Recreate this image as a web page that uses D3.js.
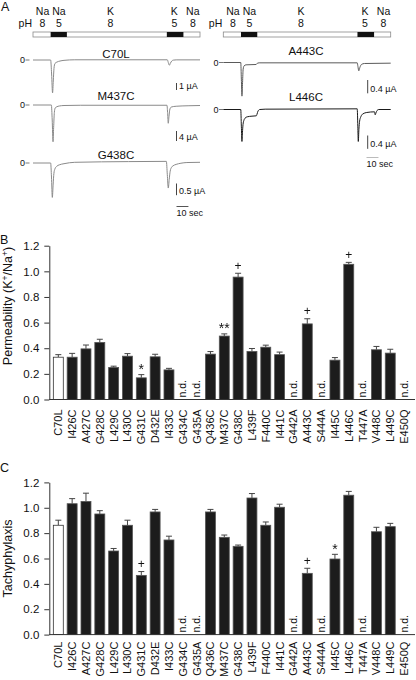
<!DOCTYPE html>
<html><head><meta charset="utf-8">
<script src="https://cdn.jsdelivr.net/npm/d3@7"></script>
<style>
body{margin:0;background:#fff}
svg{display:block}
text{font-family:"Liberation Sans",Arial,Helvetica,sans-serif;fill:#111}
</style>
</head><body>
<svg id="chart" width="416" height="680"></svg>
<script>
// ---------------- DATA ----------------
const mutants = ["C70L","I426C","A427C","G428C","L429C","L430C","G431C","D432E","I433C","G434C","G435A","Q436C","M437C","G438C","L439F","F440C","I441C","G442A","A443C","S444A","I445C","L446C","T447A","V448C","L449C","E450Q"];
const permeability    = [0.33,0.33,0.395,0.445,0.25,0.338,0.169,0.333,0.231,null,null,0.354,0.495,0.955,0.375,0.408,0.35,null,0.59,null,0.307,1.055,null,0.388,0.362,null];
const permeabilityErr = [0.02,0.03,0.03,0.025,0.01,0.02,0.025,0.02,0.012,null,null,0.02,0.017,0.03,0.023,0.016,0.02,null,0.04,null,0.02,0.015,null,0.026,0.03,null];
const permeabilityMarks = {"G431C":"*","M437C":"**","G438C":"+","A443C":"+","L446C":"+"};
const tachyphylaxis    = [0.862,1.032,1.05,0.951,0.659,0.862,0.467,0.967,0.746,null,null,0.967,0.767,0.696,1.077,0.862,1.004,null,0.483,null,0.596,1.099,null,0.811,0.851,null];
const tachyphylaxisErr = [0.04,0.04,0.065,0.026,0.02,0.04,0.03,0.02,0.03,null,null,0.02,0.018,0.01,0.035,0.026,0.024,null,0.04,null,0.037,0.03,null,0.035,0.026,null];
const tachyphylaxisMarks = {"G431C":"+","A443C":"+","I445C":"*"};
const yTicks = [0,0.2,0.4,0.6,0.8,1.0,1.2];
const controlName = "C70L";

// solution protocol (seconds)
const solutions = [
  {ion:"Na", pH:"8", start:0,     end:14.8,  acid:false, labelT:8},
  {ion:"Na", pH:"5", start:14.8,  end:28.4,  acid:true,  labelT:21.8},
  {ion:"K",  pH:"8", start:28.4,  end:112.2, acid:false, labelT:65},
  {ion:"K",  pH:"5", start:112.2, end:126.1, acid:true,  labelT:118.5},
  {ion:"Na", pH:"8", start:126.1, end:140,   acid:false, labelT:134}
];
const recordingLength = 140; // s

// current traces [time s, current µA]
const traceC70L = [[0,0],[14.8,0],[15.6,-2.0],[16.4,-4.7],[17.0,-3.0],[17.6,-1.2],[18.4,-0.5],[20,-0.3],[22.6,-0.15],[26,-0.05],[35,0.03],[112.6,0.03],[113.4,-0.35],[114.3,-0.75],[115.2,-0.45],[116.3,-0.15],[117.6,-0.02],[120,0.02],[140,0.02]];
const traceM437C = [[0,0],[15.4,0],[16.1,-6],[16.8,-14.7],[17.3,-9],[17.9,-3],[18.6,-1.2],[20,-0.7],[22,-0.4],[26,-0.2],[40,-0.1],[112.3,-0.1],[112.9,-3.5],[113.4,-7.3],[114,-4.5],[114.8,-1.6],[116,-0.8],[120,-0.5],[130,-0.3],[140,-0.2]];
const traceG438C = [[0,0],[14.8,0],[15.5,-0.6],[16.2,-1.47],[16.9,-0.9],[17.5,-0.45],[18.4,-0.25],[19.9,-0.14],[22,-0.08],[26,-0.03],[35,0.03],[80,0.06],[111.8,0.07],[112.6,-0.5],[113.4,-1.07],[114.2,-0.7],[115,-0.35],[116.2,-0.18],[117.4,-0.12],[120,-0.06],[124,-0.01],[129,0.02],[140,0.03]];
const traceA443C = [[0,0],[14.6,0],[15.1,-0.5],[15.6,-1.01],[16.1,-0.6],[16.6,-0.2],[17.4,-0.1],[19,-0.07],[27.5,-0.06],[28.5,-0.02],[30,-0.01],[112,-0.01],[112.6,-0.12],[113.3,-0.25],[114.2,-0.15],[115.5,-0.06],[118,-0.03],[140,-0.02]];
const traceL446C = [[0,0],[14.6,0],[15.1,-0.5],[15.6,-0.96],[16.0,-0.7],[16.5,-0.45],[17.2,-0.33],[18.2,-0.26],[20,-0.22],[24,-0.2],[27.6,-0.19],[28.2,-0.14],[29,-0.05],[30.5,0.0],[35,0.01],[112,0.02],[112.5,-0.5],[112.9,-0.96],[113.4,-0.6],[114,-0.35],[115,-0.22],[116.8,-0.13],[120,-0.09],[126.5,-0.07],[127,-0.16],[127.7,-0.1],[128.6,-0.03],[130,0],[140,0]];
const traceNames = ["C70L","M437C","G438C","A443C","L446C"];
const traceScaleBars = [1, 4, 0.5, 0.4, 0.4]; // µA
const timeBar = 10; // s

// ---------------- LAYOUT ----------------
const svg = d3.select("#chart");
const FONT = '"Liberation Sans",Arial,Helvetica,sans-serif';
// grayscale text antialiasing for small glyphs
svg.append("defs").append("filter").attr("id","gray").append("feOffset").attr("dx",0).attr("dy",0);

function panelLetter(t, x, y){
  svg.append("text").attr("x",x).attr("y",y).attr("font-size",12.5).text(t);
}
panelLetter("A",1,10.5);
panelLetter("B",0,243.5);
panelLetter("C",0,471.5);

// ---- Panel A ----
const panelsA = [
  {x0:33, x1:200, zeroX:20, traces:[
    {name:"C70L", data:traceC70L, base:60, k:7, color:"#8a8a8a", title:{x:116,y:58},
      bar:{x:176.5, y:83, val:traceScaleBars[0]}},
    {name:"M437C", data:traceM437C, base:105, k:2.5, color:"#8a8a8a", title:{x:116,y:100},
      bar:{x:176.5, y:131, val:traceScaleBars[1]}},
    {name:"G438C", data:traceG438C, base:163, k:23.4, color:"#8a8a8a", title:{x:116,y:158.5},
      bar:{x:176.5, y:183.5, val:traceScaleBars[2]}, time:{x:176.5, y:206.5, ty:215.5, color:"#555"}}
  ]},
  {x0:223.3, x1:390.7, zeroX:213.5, traces:[
    {name:"A443C", data:traceA443C, base:62.5, k:33.3, color:"#5a5a5a", title:{x:306,y:55},
      bar:{x:367.7, y:80, val:traceScaleBars[3]}},
    {name:"L446C", data:traceL446C, base:109.5, k:33.3, color:"#1a1a1a", title:{x:306,y:100.5},
      bar:{x:367.7, y:135.5, val:traceScaleBars[4]}, time:{x:366.5, y:157.5, ty:166.5, color:"#bbb"}}
  ]}
];

panelsA.forEach(p=>{
  const tx = d3.scaleLinear().domain([0,recordingLength]).range([p.x0,p.x1]);
  const g = svg.append("g");
  // solution labels
  g.append("text").attr("x",p.x0-1).attr("y",27).attr("text-anchor","end").attr("font-size",10.5).text("pH");
  solutions.forEach(s=>{
    g.append("text").attr("x",tx(s.labelT)).attr("y",15).attr("text-anchor","middle").attr("font-size",10.5).text(s.ion);
    g.append("text").attr("x",tx(s.labelT)).attr("y",27).attr("text-anchor","middle").attr("font-size",10.5).text(s.pH);
  });
  // stimulus bar
  g.append("rect").attr("x",tx(0)).attr("y",32).attr("width",tx(recordingLength)-tx(0)).attr("height",5)
    .attr("fill","#fff").attr("stroke","#8a8a8a").attr("stroke-width",0.8);
  g.selectAll("rect.acid").data(solutions.filter(s=>s.acid)).join("rect").attr("class","acid")
    .attr("x",d=>tx(d.start)).attr("y",32).attr("width",d=>tx(d.end)-tx(d.start)).attr("height",5)
    .attr("fill","#111");
  // traces
  p.traces.forEach(tr=>{
    const ty = d3.scaleLinear().domain([0,-1]).range([tr.base,tr.base+tr.k]);
    g.append("text").attr("x",tr.title.x).attr("y",tr.title.y).attr("text-anchor","middle").attr("font-size",11.5).text(tr.name);
    g.append("text").attr("x",p.zeroX).attr("y",tr.base+3).attr("font-size",9).attr("fill","#333").text("0");
    g.append("line").attr("x1",p.zeroX+5.5).attr("x2",p.zeroX+9.5).attr("y1",tr.base).attr("y2",tr.base).attr("stroke","#555").attr("stroke-width",0.8);
    const line = d3.line().x(d=>tx(d[0])).y(d=>ty(d[1])).curve(d3.curveMonotoneX);
    g.append("path").attr("d",line(tr.data)).attr("fill","none").attr("stroke",tr.color).attr("stroke-width",1);
    // amplitude scale bar
    const h = ty(-tr.bar.val)-ty(0);
    g.append("line").attr("x1",tr.bar.x).attr("x2",tr.bar.x).attr("y1",tr.bar.y).attr("y2",tr.bar.y+h).attr("stroke","#444").attr("stroke-width",1);
    g.append("text").attr("x",tr.bar.x+2.5).attr("y",tr.bar.y+h-1.5).attr("font-size",9).attr("fill","#333").text(tr.bar.val+" \u00b5A");
    if(tr.time){
      const w = tx(timeBar)-tx(0);
      g.append("line").attr("x1",tr.time.x).attr("x2",tr.time.x+w).attr("y1",tr.time.y).attr("y2",tr.time.y).attr("stroke",tr.time.color).attr("stroke-width",1);
      g.append("text").attr("x",tr.time.x).attr("y",tr.time.ty).attr("font-size",9).attr("fill","#333").text(timeBar+" sec");
    }
  });
});

// ---- Panels B and C ----
function barPanel(opts){
  const {values, errs, marks, y0, y1, title, titleY, labelGap} = opts;
  const x = d3.scaleBand().domain(mutants).range([51.4,411]).paddingInner(0.28).paddingOuter(0.14);
  const y = d3.scaleLinear().domain([0,1.2]).range([y0,y1]);
  const axisX = 49.3;
  const g = svg.append("g");
  const rows = mutants.map((m,i)=>({m, v:values[i], e:errs[i]}));
  const measured = rows.filter(r=>r.v!==null);
  // error bars
  g.selectAll("line.err").data(measured).join("line").attr("class","err")
    .attr("x1",d=>x(d.m)+x.bandwidth()/2).attr("x2",d=>x(d.m)+x.bandwidth()/2)
    .attr("y1",d=>y(d.v)).attr("y2",d=>y(d.v+d.e)).attr("stroke","#444").attr("stroke-width",1);
  g.selectAll("line.cap").data(measured).join("line").attr("class","cap")
    .attr("x1",d=>x(d.m)+x.bandwidth()/2-3).attr("x2",d=>x(d.m)+x.bandwidth()/2+3)
    .attr("y1",d=>y(d.v+d.e)).attr("y2",d=>y(d.v+d.e)).attr("stroke","#444").attr("stroke-width",1);
  // bars
  g.selectAll("rect.bar").data(measured).join("rect").attr("class","bar")
    .attr("x",d=>x(d.m)).attr("width",x.bandwidth())
    .attr("y",d=>y(d.v)).attr("height",d=>y(0)-y(d.v))
    .attr("fill",d=>d.m===controlName?"#fff":"#1c1c1c")
    .attr("stroke",d=>d.m===controlName?"#333":"#555").attr("stroke-width",0.8);
  // n.d.
  g.selectAll("text.nd").data(rows.filter(r=>r.v===null)).join("text").attr("class","nd")
    .attr("transform",d=>`translate(${x(d.m)+x.bandwidth()/2+3.5},${y0-2}) rotate(-90)`)
    .attr("font-size",10.5).attr("fill","#222").text("n.d.");
  // significance marks
  g.append("g").attr("filter","url(#gray)")
    .selectAll("text.mark").data(measured.filter(r=>marks[r.m])).join("text").attr("class","mark")
    .attr("x",d=>x(d.m)+x.bandwidth()/2).attr("text-anchor","middle")
    .attr("y",d=>y(d.v+d.e)-(marks[d.m]==="+"?3.3:0.5))
    .attr("font-size",d=>marks[d.m]==="+"?12:14).attr("fill","#111").text(d=>marks[d.m]);
  // y axis
  const ya = g.append("g").attr("transform",`translate(${axisX},0)`)
    .call(d3.axisLeft(y).tickValues(yTicks).tickFormat(d3.format(".1f")).tickSize(5).tickPadding(5).tickSizeOuter(0));
  ya.selectAll("text").attr("font-size",11.5).attr("font-family",FONT).attr("fill","#222");
  ya.selectAll("line,path").attr("stroke","#333");
  // x axis
  const xa = g.append("g").attr("transform",`translate(0,${y0})`)
    .call(d3.axisBottom(x).tickSize(0).tickSizeOuter(0));
  xa.select(".domain").remove();
  xa.append("line").attr("x1",axisX).attr("x2",415).attr("y1",0).attr("y2",0).attr("stroke","#333").attr("stroke-width",1);
  xa.selectAll(".tick text").attr("transform","rotate(-90)").attr("x",-labelGap).attr("y",0).attr("dy","0.36em")
    .attr("text-anchor","end").attr("font-size",11).attr("font-family",FONT).attr("fill","#111");
  // title
  const t = g.append("text").attr("transform",`translate(12,${titleY}) rotate(-90)`).attr("text-anchor","middle").attr("font-size",12.5);
  title(t);
}

barPanel({values:permeability, errs:permeabilityErr, marks:permeabilityMarks, y0:399.5, y1:245.7,
  titleY:306, labelGap:10,
  title:t=>{
    t.append("tspan").text("Permeability (K");
    t.append("tspan").attr("dy",-4.5).attr("font-size",8.5).text("+");
    t.append("tspan").attr("dy",4.5).text("/Na");
    t.append("tspan").attr("dy",-4.5).attr("font-size",8.5).text("+");
    t.append("tspan").attr("dy",4.5).text(")");
  }});
barPanel({values:tachyphylaxis, errs:tachyphylaxisErr, marks:tachyphylaxisMarks, y0:634.6, y1:482.4,
  titleY:558.5, labelGap:7,
  title:t=>t.text("Tachyphylaxis")});
</script>
</body></html>
